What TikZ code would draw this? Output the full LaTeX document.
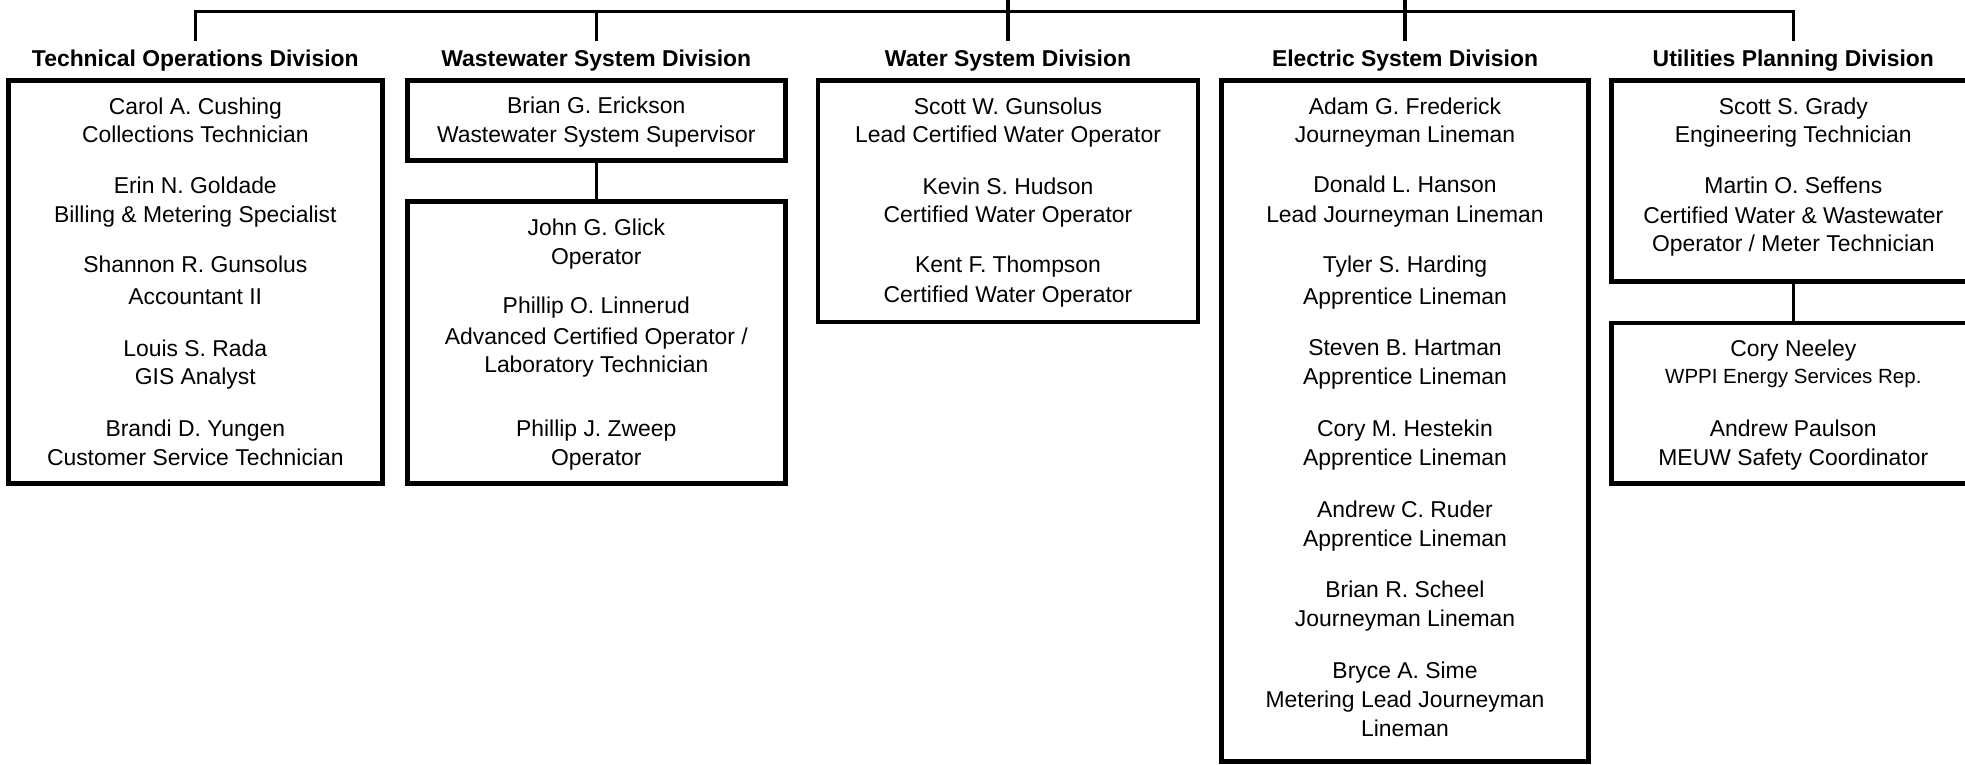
\documentclass[tikz,border=0pt]{standalone}
\usepackage{fontspec}
\setmainfont{Liberation Sans}
\begin{document}
\begin{tikzpicture}[x=1pt,y=-1pt,
  txt/.style={font=\fontsize{22.9}{27}\selectfont, anchor=base, inner sep=0pt},
  smalltxt/.style={txt, font=\fontsize{20.5}{24}\selectfont},
  divtitle/.style={txt, font=\bfseries\fontsize{22.9}{27}\selectfont},
  unit/.style={draw, line width=4.8pt, rectangle, inner sep=0pt},
  link/.style={line width=3.2pt, line join=miter}]
\useasboundingbox (0,0) rectangle (1965,764);
\clip (0,0) rectangle (1965,764);

% connector tree across the divisions
\coordinate (j1) at (195.3,11.7);
\coordinate (j2) at (596.3,11.7);
\coordinate (j5) at (1793.3,11.7);
\coordinate (w0) at (1008,-5);
\coordinate (e0) at (1405,-5);
\coordinate (d1) at (195.3,40.7);
\coordinate (d2) at (596.3,40.7);
\coordinate (d3) at (1008,40.7);
\coordinate (d4) at (1405,40.7);
\coordinate (d5) at (1793.3,40.7);
\draw[link] (d1) -- (j1) -- (j5) -- (d5);
\draw[link] (j2) -- (d2);
\draw[link] (w0) -- (d3);
\draw[link] (e0) -- (d4);

% division headings
\node[divtitle] (h1) at (195.3,66.7) {Technical Operations Division};
\node[divtitle] (h2) at (596.3,66.7) {Wastewater System Division};
\node[divtitle] (h3) at (1008,66.7) {Water System Division};
\node[divtitle] (h4) at (1405,66.7) {Electric System Division};
\node[divtitle] (h5) at (1793.3,66.7) {Utilities Planning Division};

% staff boxes
\node[unit, minimum width=374pt, minimum height=402.8pt] (tech) at (195.3,282.1) {};
\node[unit, minimum width=378pt, minimum height=79.8pt] (ww1) at (596.3,120.6) {};
\node[unit, minimum width=378pt, minimum height=281.8pt] (ww2) at (596.3,342.6) {};
\node[unit, minimum width=380pt, minimum height=241.3pt] (water) at (1008,201.35) {};
\node[unit, minimum width=367pt, minimum height=680.8pt] (elec) at (1405,421.1) {};
\node[unit, minimum width=363pt, minimum height=201pt] (up1) at (1793.3,181.2) {};
\node[unit, minimum width=363pt, minimum height=160.5pt] (up2) at (1793.3,403.25) {};
\draw[link] (ww1.south) -- (ww2.north);
\draw[link] (up1.south) -- (up2.north);

% Technical Operations Division
\node[txt] (t1a) at (195.3,114) {Carol A. Cushing};
\node[txt] (t1b) at (195.3,142.7) {Collections Technician};
\node[txt] (t2a) at (195.3,193) {Erin N. Goldade};
\node[txt] (t2b) at (195.3,222.7) {Billing \& Metering Specialist};
\node[txt] (t3a) at (195.3,272.7) {Shannon R. Gunsolus};
\node[txt] (t3b) at (195.3,304) {Accountant II};
\node[txt] (t4a) at (195.3,356) {Louis S. Rada};
\node[txt] (t4b) at (195.3,384) {GIS Analyst};
\node[txt] (t5a) at (195.3,436.7) {Brandi D. Yungen};
\node[txt] (t5b) at (195.3,465) {Customer Service Technician};

% Wastewater System Division
\node[txt] (w1a) at (596.3,113.5) {Brian G. Erickson};
\node[txt] (w1b) at (596.3,142) {Wastewater System Supervisor};
\node[txt] (w2a) at (596.3,235) {John G. Glick};
\node[txt] (w2b) at (596.3,264) {Operator};
\node[txt] (w3a) at (596.3,313.3) {Phillip O. Linnerud};
\node[txt] (w3b) at (596.3,344.3) {Advanced Certified Operator /};
\node[txt] (w3c) at (596.3,372.7) {Laboratory Technician};
\node[txt] (w4a) at (596.3,436.7) {Phillip J. Zweep};
\node[txt] (w4b) at (596.3,465) {Operator};

% Water System Division
\node[txt] (a1a) at (1008,114) {Scott W. Gunsolus};
\node[txt] (a1b) at (1008,142.7) {Lead Certified Water Operator};
\node[txt] (a2a) at (1008,194.5) {Kevin S. Hudson};
\node[txt] (a2b) at (1008,222.7) {Certified Water Operator};
\node[txt] (a3a) at (1008,272.7) {Kent F. Thompson};
\node[txt] (a3b) at (1008,302) {Certified Water Operator};

% Electric System Division
\node[txt] (e1a) at (1405,114) {Adam G. Frederick};
\node[txt] (e1b) at (1405,142.7) {Journeyman Lineman};
\node[txt] (e2a) at (1405,192.5) {Donald L. Hanson};
\node[txt] (e2b) at (1405,222.7) {Lead Journeyman Lineman};
\node[txt] (e3a) at (1405,272.7) {Tyler S. Harding};
\node[txt] (e3b) at (1405,304) {Apprentice Lineman};
\node[txt] (e4a) at (1405,355) {Steven B. Hartman};
\node[txt] (e4b) at (1405,384) {Apprentice Lineman};
\node[txt] (e5a) at (1405,436.7) {Cory M. Hestekin};
\node[txt] (e5b) at (1405,465) {Apprentice Lineman};
\node[txt] (e6a) at (1405,517.3) {Andrew C. Ruder};
\node[txt] (e6b) at (1405,546) {Apprentice Lineman};
\node[txt] (e7a) at (1405,597.3) {Brian R. Scheel};
\node[txt] (e7b) at (1405,626) {Journeyman Lineman};
\node[txt] (e8a) at (1405,678.3) {Bryce A. Sime};
\node[txt] (e8b) at (1405,707.3) {Metering Lead Journeyman};
\node[txt] (e8c) at (1405,736) {Lineman};

% Utilities Planning Division
\node[txt] (u1a) at (1793.3,114) {Scott S. Grady};
\node[txt] (u1b) at (1793.3,142.7) {Engineering Technician};
\node[txt] (u2a) at (1793.3,193) {Martin O. Seffens};
\node[txt] (u2b) at (1793.3,223) {Certified Water \& Wastewater};
\node[txt] (u2c) at (1793.3,251.5) {Operator / Meter Technician};
\node[txt] (u3a) at (1793.3,356) {Cory Neeley};
\node[smalltxt] (u3b) at (1793.3,383) {WPPI Energy Services Rep.};
\node[txt] (u4a) at (1793.3,436) {Andrew Paulson};
\node[txt] (u4b) at (1793.3,465) {MEUW Safety Coordinator};
\end{tikzpicture}
\end{document}
